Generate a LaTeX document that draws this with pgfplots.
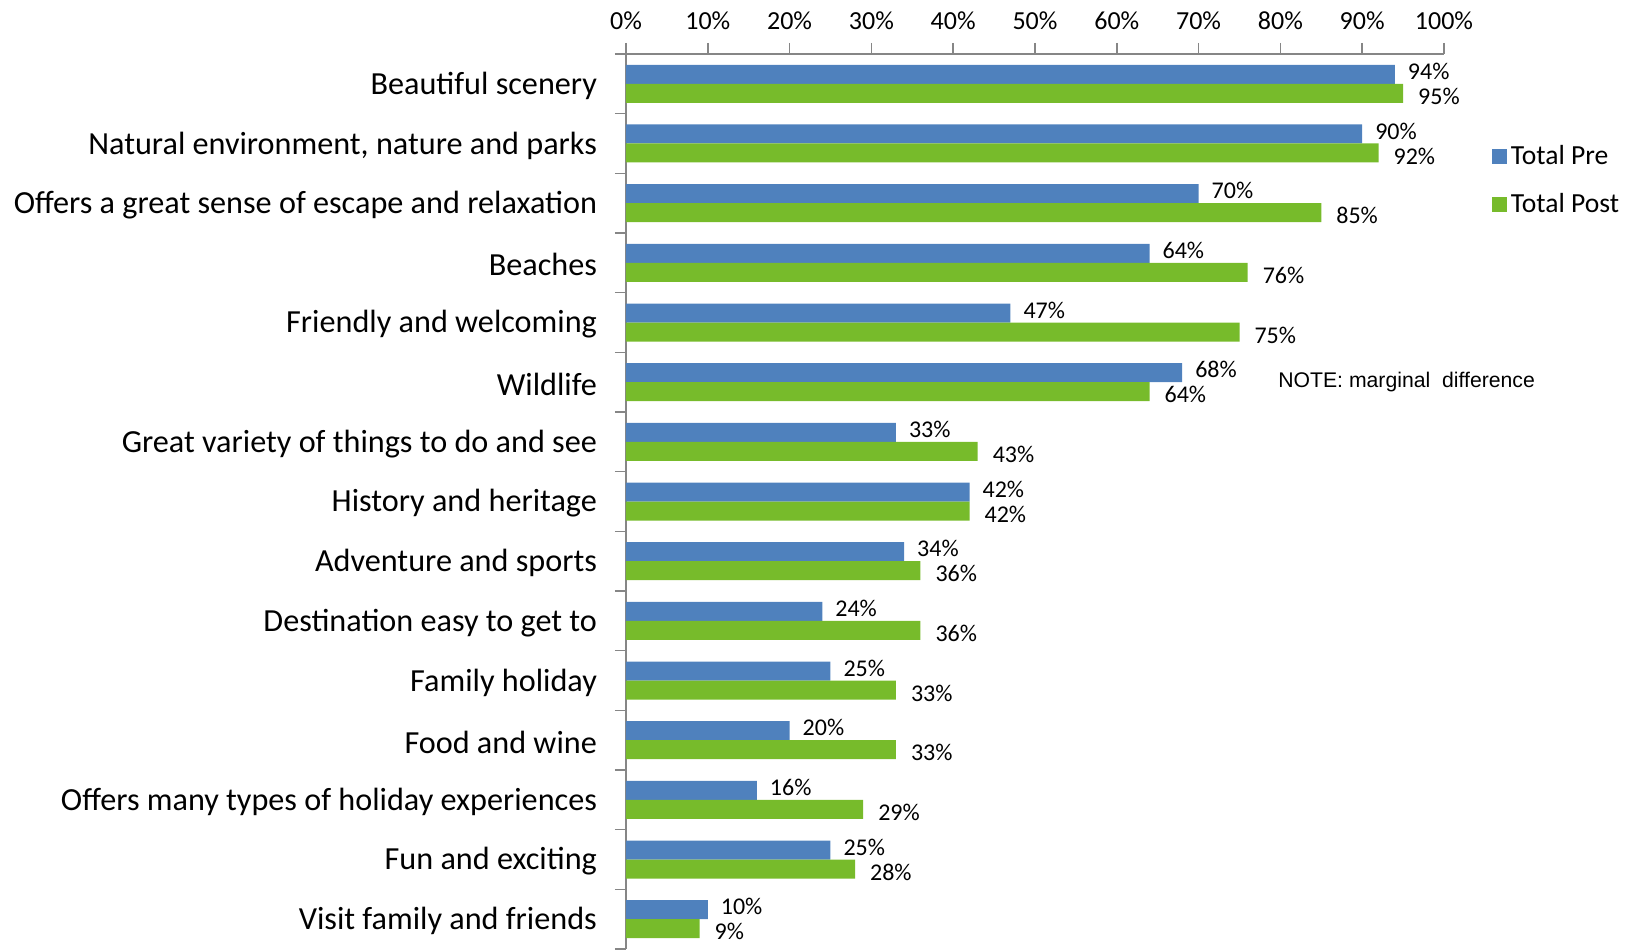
\documentclass[border=0pt]{standalone}
\usepackage{pgfplots}
\pgfplotsset{compat=1.18}
\usepackage{fontspec}
\setmainfont{Carlito}
\newfontfamily\arialf{Liberation Sans}
\definecolor{preblue}{HTML}{4F81BD}
\definecolor{postgreen}{HTML}{77BB2B}
\definecolor{axgray}{HTML}{868686}
\begin{document}
\begin{tikzpicture}
\begin{axis}[
  name=ax,
  scale only axis,
  width=409pt, height=447.5pt,
  xmin=0, xmax=100,
  ymin=-0.5, ymax=14.5,
  axis x line*=top,
  axis y line*=left,
  axis line style={draw=axgray, line width=0.75pt},
  every tick/.style={draw=axgray, line width=0.75pt},
  tick align=outside,
  major tick length=5.5pt,
  /pgf/number format/assume math mode=true,
  xtick={0,10,...,100},
  xticklabel={\pgfmathprintnumber{\tick}\%},
  xticklabel style={font=\fontsize{13}{15}\selectfont, yshift=3pt},
  ytick={-0.5,0.5,...,14.5},
  yticklabels={},
  extra y ticks={0,1,...,14},
  extra y tick labels={Visit family and friends,Fun and exciting,Offers many types of holiday experiences,Food and wine,Family holiday,Destination easy to get to,Adventure and sports,History and heritage,Great variety of things to do and see,Wildlife,Friendly and welcoming,Beaches,Offers a great sense of escape and relaxation,{Natural environment, nature and parks},Beautiful scenery},
  extra y tick style={major tick length=0pt, yticklabel style={font=\fontsize{16.1}{19}\selectfont, xshift=-11pt, yshift=-1pt}},
  xbar, bar width=9.5pt,
  point meta=x,
  nodes near coords={\pgfmathprintnumber{\pgfplotspointmeta}\%},
  every node near coord/.append style={anchor=west, font=\fontsize{12}{14}\selectfont, text=black},
  legend style={at={(1.0585,0.8585)}, anchor=west, draw=none, fill=none, inner sep=0pt,
    font=\fontsize{13.8}{16}\selectfont, row sep=9pt, legend cell align=left},
  clip=false,
]
\addplot[fill=preblue, draw=none, bar shift=4.75pt,
  every node near coord/.append style={xshift=3pt, yshift=1.5pt},
  legend image code/.code={\fill[preblue] (0pt,-3.6pt) rectangle (7.3pt,3.7pt);}]
coordinates {
(10,0) (25,1) (16,2) (20,3) (25,4) (24,5) (34,6) (42,7) (33,8) (68,9) (47,10) (64,11) (70,12) (90,13) (94,14)
};
\addlegendentry{Total Pre}
\addplot[fill=postgreen, draw=none, bar shift=-4.75pt,
  every node near coord/.append style={xshift=4pt, yshift=-1.5pt},
  legend image code/.code={\fill[postgreen] (0pt,-3.6pt) rectangle (7.3pt,3.7pt);}]
coordinates {
(9,0) (28,1) (29,2) (33,3) (33,4) (36,5) (36,6) (42,7) (43,8) (64,9) (75,10) (76,11) (85,12) (92,13) (95,14)
};
\addlegendentry{Total Post}
\node[anchor=west, font=\arialf\fontsize{10.6}{12}\selectfont, inner sep=0pt] at (axis cs:79.7,9) {NOTE: marginal\ \ difference};
\end{axis}
\pgfresetboundingbox
\path[use as bounding box] ([xshift=-313pt]ax.south west) rectangle ([xshift=96pt,yshift=27pt]ax.north east);
\end{tikzpicture}
\end{document}
